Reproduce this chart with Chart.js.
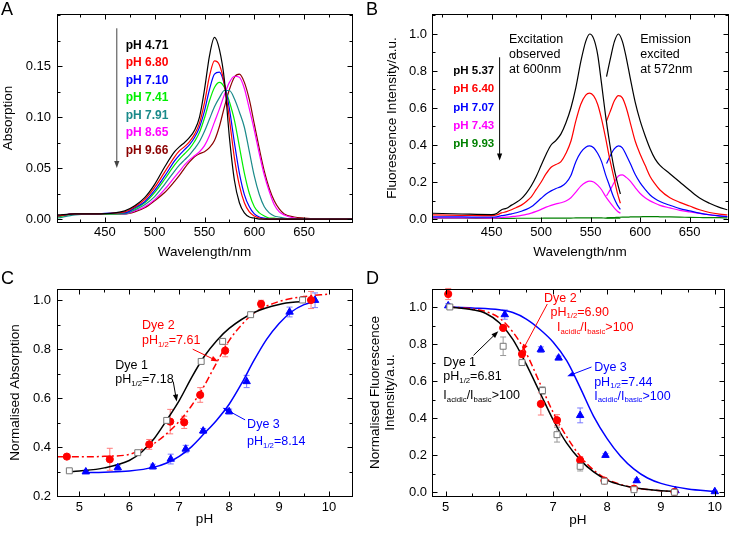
<!DOCTYPE html>
<html>
<head>
<meta charset="utf-8">
<script src="https://cdn.jsdelivr.net/npm/chart.js@4.4.1/dist/chart.umd.min.js"></script>
<style>
  body { margin: 0; background: #fff; }
  #page { position: relative; width: 729px; height: 536px; overflow: hidden; font-family: 'Liberation Sans', Arial, sans-serif; }
  canvas { position: absolute; }
  .tag { position: absolute; font-size: 18px; line-height: 18px; color: #000; }
</style>
</head>
<body>
<div id="page">
  <canvas id="chartA" width="364" height="268" style="left:0;top:0"></canvas>
  <canvas id="chartB" width="365" height="268" style="left:364px;top:0"></canvas>
  <canvas id="chartC" width="364" height="268" style="left:0;top:268px"></canvas>
  <canvas id="chartD" width="365" height="268" style="left:364px;top:268px"></canvas>
  <div class="tag" style="left:1px;top:0">A</div>
  <div class="tag" style="left:366px;top:0">B</div>
  <div class="tag" style="left:1px;top:269px">C</div>
  <div class="tag" style="left:366px;top:269px">D</div>
</div>
<script>
// --- Panel A: absorption spectra ---
const aWavelength = [403, 420, 440, 460, 470, 480, 490, 500, 510, 520, 525, 530, 535, 540, 545, 550, 555, 560, 565, 570, 575, 580, 585, 590, 595, 600, 605, 610, 615, 620, 625, 630, 640, 650, 670, 698];
const aPh471 = [0.004, 0.005, 0.005, 0.006, 0.008, 0.013, 0.021, 0.034, 0.051, 0.066, 0.071, 0.075, 0.080, 0.087, 0.100, 0.127, 0.160, 0.178, 0.166, 0.136, 0.080, 0.038, 0.016, 0.006, 0.002, 0.001, 0, 0, 0, 0, 0, 0, 0, 0, 0, 0];
const aPh680 = [0.003, 0.005, 0.005, 0.006, 0.007, 0.012, 0.019, 0.031, 0.046, 0.061, 0.067, 0.071, 0.076, 0.083, 0.094, 0.114, 0.140, 0.155, 0.151, 0.132, 0.098, 0.060, 0.033, 0.016, 0.007, 0.003, 0.001, 0, 0, 0, 0, 0, 0, 0, 0, 0];
const aPh710 = [0.003, 0.005, 0.005, 0.006, 0.006, 0.011, 0.017, 0.028, 0.042, 0.057, 0.063, 0.068, 0.073, 0.080, 0.090, 0.106, 0.127, 0.142, 0.144, 0.132, 0.108, 0.075, 0.045, 0.024, 0.012, 0.005, 0.002, 0.001, 0, 0, 0, 0, 0, 0, 0, 0];
const aPh741 = [0.002, 0.005, 0.005, 0.005, 0.006, 0.010, 0.016, 0.026, 0.039, 0.053, 0.059, 0.064, 0.069, 0.076, 0.085, 0.099, 0.116, 0.129, 0.134, 0.129, 0.115, 0.097, 0.071, 0.045, 0.025, 0.012, 0.006, 0.003, 0.001, 0.001, 0, 0, 0, 0, 0, 0];
const aPh791 = [0.001, 0.004, 0.005, 0.005, 0.005, 0.009, 0.014, 0.022, 0.034, 0.047, 0.053, 0.058, 0.063, 0.069, 0.076, 0.086, 0.098, 0.110, 0.119, 0.126, 0.126, 0.118, 0.105, 0.090, 0.066, 0.042, 0.024, 0.012, 0.006, 0.003, 0.002, 0.001, 0, 0, 0, 0];
const aPh865 = [0.003, 0.005, 0.005, 0.005, 0.005, 0.008, 0.012, 0.019, 0.029, 0.041, 0.047, 0.053, 0.058, 0.062, 0.066, 0.072, 0.082, 0.095, 0.108, 0.122, 0.134, 0.140, 0.139, 0.128, 0.108, 0.087, 0.064, 0.043, 0.027, 0.014, 0.007, 0.004, 0.001, 0, 0, 0];
const aPh966 = [0.003, 0.005, 0.005, 0.005, 0.005, 0.007, 0.011, 0.018, 0.026, 0.037, 0.043, 0.050, 0.056, 0.061, 0.064, 0.066, 0.070, 0.077, 0.091, 0.110, 0.127, 0.139, 0.142, 0.134, 0.117, 0.093, 0.069, 0.047, 0.030, 0.018, 0.010, 0.005, 0.002, 0.001, 0, 0];
const aXTicks = [450, 500, 550, 600, 650];
const aYTicks = [0, 0.05, 0.10, 0.15];

// --- Panel B: excitation and emission spectra ---
const bExcWavelength = [390, 420, 450, 455, 460, 465, 470, 475, 480, 485, 490, 495, 500, 505, 510, 515, 520, 525, 530, 535, 540, 545, 549, 553, 557, 561, 565, 569, 573, 577, 580];
const bExc537 = [0.031, 0.027, 0.024, 0.030, 0.050, 0.058, 0.075, 0.090, 0.110, 0.140, 0.180, 0.230, 0.290, 0.350, 0.400, 0.425, 0.460, 0.520, 0.600, 0.710, 0.850, 0.960, 1.000, 0.975, 0.890, 0.730, 0.560, 0.415, 0.290, 0.195, 0.135];
const bExc640 = [0.022, 0.020, 0.018, 0.022, 0.033, 0.040, 0.050, 0.062, 0.075, 0.095, 0.120, 0.160, 0.200, 0.245, 0.280, 0.295, 0.310, 0.355, 0.420, 0.530, 0.620, 0.670, 0.680, 0.665, 0.620, 0.540, 0.440, 0.330, 0.235, 0.140, 0.085];
const bExc707 = [0.012, 0.011, 0.010, 0.012, 0.018, 0.022, 0.028, 0.034, 0.042, 0.052, 0.066, 0.088, 0.112, 0.135, 0.152, 0.165, 0.175, 0.195, 0.235, 0.310, 0.360, 0.388, 0.395, 0.385, 0.355, 0.310, 0.240, 0.180, 0.120, 0.075, 0.052];
const bExc743 = [0.006, 0.006, 0.005, 0.006, 0.008, 0.010, 0.013, 0.016, 0.020, 0.025, 0.032, 0.041, 0.052, 0.064, 0.074, 0.082, 0.088, 0.097, 0.115, 0.145, 0.178, 0.198, 0.205, 0.200, 0.183, 0.158, 0.122, 0.092, 0.065, 0.042, 0.031];
const bExc993 = [0.004, 0.004, 0.003, 0.003, 0.003, 0.003, 0.003, 0.004, 0.004, 0.004, 0.004, 0.004, 0.004, 0.005, 0.005, 0.005, 0.005, 0.005, 0.005, 0.006, 0.006, 0.006, 0.006, 0.006, 0.006, 0.006, 0.005, 0.005, 0.005, 0.005, 0.005];
const bEmWavelength = [566, 570, 574, 578, 582, 586, 590, 595, 600, 605, 610, 615, 620, 630, 640, 650, 660, 670, 680, 688];
const bEm537 = [0.77, 0.87, 0.96, 1.0, 0.96, 0.87, 0.76, 0.63, 0.53, 0.45, 0.38, 0.325, 0.29, 0.245, 0.2, 0.155, 0.113, 0.085, 0.063, 0.05];
const bEm640 = [0.53, 0.585, 0.64, 0.667, 0.655, 0.6, 0.52, 0.42, 0.35, 0.29, 0.23, 0.19, 0.157, 0.115, 0.09, 0.07, 0.05, 0.035, 0.026, 0.022];
const bEm707 = [0.3, 0.345, 0.38, 0.395, 0.385, 0.345, 0.3, 0.24, 0.195, 0.16, 0.13, 0.11, 0.095, 0.074, 0.056, 0.044, 0.032, 0.023, 0.017, 0.013];
const bEm743 = [0.125, 0.16, 0.2, 0.232, 0.238, 0.225, 0.205, 0.17, 0.138, 0.115, 0.098, 0.085, 0.074, 0.06, 0.047, 0.038, 0.03, 0.022, 0.016, 0.013];
const bEm993 = [0.006, 0.007, 0.008, 0.009, 0.01, 0.01, 0.011, 0.012, 0.012, 0.013, 0.013, 0.013, 0.012, 0.011, 0.01, 0.009, 0.008, 0.007, 0.007, 0.006];
const bXTicks = [450, 500, 550, 600, 650];
const bYTicks = [0, 0.2, 0.4, 0.6, 0.8, 1.0];

// --- Panel C: normalised absorption vs pH ---
const cDye1Ph = [4.80, 6.17, 6.75, 7.44, 7.87, 8.43, 9.47];
const cDye1Val = [0.303, 0.377, 0.509, 0.750, 0.832, 0.941, 1.001];
const cDye1Err = [0.005, 0.005, 0.01, 0.01, 0.01, 0.005, 0.005];
const cDye2Ph = [4.75, 5.61, 6.40, 6.82, 7.10, 7.42, 7.92, 8.64, 9.64];
const cDye2Val = [0.361, 0.350, 0.411, 0.504, 0.501, 0.613, 0.794, 0.985, 1.001];
const cDye2Err = [0, 0.045, 0.02, 0.05, 0.025, 0.03, 0.025, 0.015, 0.035];
const cDye3Ph = [5.13, 5.77, 6.47, 6.83, 7.13, 7.48, 8.00, 8.35, 9.21, 9.72];
const cDye3Val = [0.299, 0.316, 0.320, 0.351, 0.392, 0.466, 0.545, 0.668, 0.952, 1.000];
const cDye3Err = [0.005, 0.01, 0.01, 0.02, 0.015, 0.01, 0.01, 0.025, 0.02, 0.03];
const cFit1Ph = [4.75, 5.0, 5.5, 6.0, 6.25, 6.5, 6.75, 7.0, 7.25, 7.5, 7.75, 8.0, 8.5, 9.0, 9.5];
const cFit1 = [0.298, 0.302, 0.315, 0.345, 0.38, 0.435, 0.51, 0.59, 0.685, 0.77, 0.835, 0.885, 0.95, 0.983, 0.996];
const cFit2Ph = [4.55, 5.0, 5.5, 6.0, 6.25, 6.5, 6.75, 7.0, 7.25, 7.5, 7.75, 8.0, 8.25, 8.5, 9.0, 9.5, 10.0];
const cFit2 = [0.36, 0.36, 0.362, 0.37, 0.39, 0.415, 0.455, 0.505, 0.57, 0.65, 0.745, 0.835, 0.9, 0.948, 0.995, 1.015, 1.025];
const cFit3Ph = [5.1, 5.5, 6.0, 6.5, 6.75, 7.0, 7.25, 7.5, 7.75, 8.0, 8.25, 8.5, 8.75, 9.0, 9.25, 9.5, 9.75];
const cFit3 = [0.295, 0.297, 0.302, 0.318, 0.335, 0.362, 0.402, 0.455, 0.51, 0.575, 0.66, 0.755, 0.84, 0.905, 0.953, 0.982, 0.998];
const cXTicks = [5, 6, 7, 8, 9, 10];
const cYTicks = [0.2, 0.4, 0.6, 0.8, 1.0];

// --- Panel D: normalised fluorescence vs pH ---
const dDye1Ph = [5.08, 6.07, 6.42, 6.80, 7.07, 7.50, 7.95, 8.50, 9.25];
const dDye1Val = [1.0, 0.788, 0.70, 0.549, 0.311, 0.14, 0.06, 0.014, 0.0];
const dDye1Err = [0.01, 0.05, 0.01, 0.02, 0.04, 0.025, 0.01, 0.005, 0.005];
const dDye2Ph = [5.05, 6.07, 6.42, 6.77, 7.07, 7.50, 7.95, 8.50, 9.25];
const dDye2Val = [1.07, 0.887, 0.746, 0.477, 0.389, 0.173, 0.063, 0.02, 0.002];
const dDye2Err = [0.03, 0.01, 0.02, 0.06, 0.03, 0.02, 0.01, 0.005, 0.005];
const dDye3Ph = [5.05, 6.10, 6.77, 7.10, 7.50, 7.97, 8.55, 9.27, 10.0];
const dDye3Val = [1.007, 0.959, 0.77, 0.725, 0.415, 0.2, 0.063, 0.009, 0.004];
const dDye3Err = [0.01, 0.025, 0.015, 0.01, 0.04, 0.01, 0.01, 0.005, 0.003];
const dFit12Ph = [5.05, 5.5, 5.75, 6.0, 6.25, 6.5, 6.75, 7.0, 7.25, 7.5, 7.75, 8.0, 8.25, 8.5, 9.0, 9.3];
const dFit1 = [1.0, 0.985, 0.965, 0.915, 0.825, 0.69, 0.54, 0.39, 0.265, 0.175, 0.11, 0.066, 0.04, 0.024, 0.008, 0.004];
const dFit2 = [1.0, 0.99, 0.975, 0.94, 0.865, 0.75, 0.59, 0.43, 0.3, 0.195, 0.12, 0.07, 0.042, 0.025, 0.008, 0.003];
const dFit3Ph = [5.05, 5.5, 6.0, 6.25, 6.5, 6.75, 7.0, 7.25, 7.5, 7.75, 8.0, 8.25, 8.5, 8.75, 9.0, 9.5, 10.0];
const dFit3 = [1.0, 0.995, 0.985, 0.97, 0.935, 0.88, 0.81, 0.71, 0.565, 0.41, 0.29, 0.195, 0.125, 0.077, 0.048, 0.018, 0.005];
const dXTicks = [5, 6, 7, 8, 9, 10];
const dYTicks = [0, 0.2, 0.4, 0.6, 0.8, 1.0];

// --- Shared helpers ---
const FONT = "'Liberation Sans', Arial, sans-serif";
Chart.defaults.font.family = FONT;
Chart.defaults.color = '#000';

const RED = '#ff0000', BLUE = '#0000ff', BLACK = '#000000';
const SUB = (t) => ({ sub: t });

function xy(xs, ys) { return xs.map((x, i) => ({ x, y: ys[i] })); }

function curve(xs, ys, color, extra) {
    return Object.assign({
        data: xy(xs, ys), borderColor: color, backgroundColor: color,
        borderWidth: 1.2, pointRadius: 0, showLine: true,
        cubicInterpolationMode: 'monotone', order: 1
    }, extra || {});
}

function markers(xs, ys, style, color, fill, r) {
    return {
        data: xy(xs, ys), showLine: false, pointStyle: style, pointRadius: r,
        borderColor: color, backgroundColor: fill, borderWidth: 1, order: 0
    };
}

function axis(c) {
    return {
        type: 'linear', min: c.min, max: c.max,
        afterBuildTicks: s => { s.ticks = c.ticks.map(v => ({ value: v })); },
        afterFit: s => { if (s.isHorizontal()) s.height = c.size; else s.width = c.size; },
        grid: { display: false, drawTicks: false },
        border: { display: false },
        ticks: { autoSkip: false, maxRotation: 0, padding: c.pad, color: '#000', font: { size: 13 },
                 callback: v => v.toFixed(c.dec) },
        title: { display: true, text: c.title, color: '#000',
                 font: { size: 13.5, lineHeight: c.lh || 1.2 }, padding: c.tpad }
    };
}

function richText(ctx, x, y, parts, size, color, bold) {
    ctx.fillStyle = color; ctx.textBaseline = 'middle'; ctx.textAlign = 'left';
    let cx = x;
    parts.forEach(p => {
        const sub = typeof p === 'object';
        const t = sub ? p.sub : p;
        ctx.font = (bold ? 'bold ' : '') + (sub ? size * 0.62 : size) + 'px ' + FONT;
        ctx.fillText(t, cx, sub ? y + size * 0.32 : y);
        cx += ctx.measureText(t).width;
    });
}

function arrow(ctx, x1, y1, x2, y2, color) {
    const a = Math.atan2(y2 - y1, x2 - x1), L = 7, W = 2.6;
    ctx.strokeStyle = color; ctx.fillStyle = color; ctx.lineWidth = 1;
    ctx.beginPath(); ctx.moveTo(x1, y1);
    ctx.lineTo(x2 - L * 0.8 * Math.cos(a), y2 - L * 0.8 * Math.sin(a)); ctx.stroke();
    ctx.beginPath(); ctx.moveTo(x2, y2);
    ctx.lineTo(x2 - L * Math.cos(a) + W * Math.sin(a), y2 - L * Math.sin(a) - W * Math.cos(a));
    ctx.lineTo(x2 - L * Math.cos(a) - W * Math.sin(a), y2 - L * Math.sin(a) + W * Math.cos(a));
    ctx.closePath(); ctx.fill();
}

// frame, inward ticks, error bars, in-plot labels and arrows
const decor = {
    id: 'decor',
    beforeDatasetsDraw(chart, args, opts) {
        const ctx = chart.ctx, xs = chart.scales.x, ys = chart.scales.y;
        ctx.save();
        (opts.errorBars || []).forEach(eb => {
            ctx.strokeStyle = eb.color; ctx.lineWidth = 1;
            eb.x.forEach((xv, i) => {
                const e = eb.err[i];
                if (!e) return;
                const px = xs.getPixelForValue(xv);
                const y1 = ys.getPixelForValue(eb.y[i] - e), y2 = ys.getPixelForValue(eb.y[i] + e);
                ctx.beginPath();
                ctx.moveTo(px, y1); ctx.lineTo(px, y2);
                ctx.moveTo(px - 3, y1); ctx.lineTo(px + 3, y1);
                ctx.moveTo(px - 3, y2); ctx.lineTo(px + 3, y2);
                ctx.stroke();
            });
        });
        ctx.restore();
    },
    afterDraw(chart, args, opts) {
        const ctx = chart.ctx, a = chart.chartArea, xs = chart.scales.x, ys = chart.scales.y;
        const L = Math.round(a.left) + 0.5, R = Math.round(a.right) + 0.5;
        const T = Math.round(a.top) + 0.5, B = Math.round(a.bottom) + 0.5;
        ctx.save();
        ctx.strokeStyle = '#000'; ctx.lineWidth = 1;
        ctx.strokeRect(L, T, R - L, B - T);

        const tickSet = (scale, step) => {
            const out = scale.ticks.map(t => ({ v: t.value, len: 5 }));
            const n0 = Math.ceil(scale.min / step - 1e-6), n1 = Math.floor(scale.max / step + 1e-6);
            for (let n = n0; n <= n1; n++) {
                const v = n * step;
                if (!out.some(t => Math.abs(t.v - v) < step / 10)) out.push({ v, len: 3 });
            }
            return out;
        };
        ctx.beginPath();
        tickSet(xs, opts.xMinor).forEach(t => {
            const px = Math.round(xs.getPixelForValue(t.v)) + 0.5;
            ctx.moveTo(px, B); ctx.lineTo(px, B - t.len);
            ctx.moveTo(px, T); ctx.lineTo(px, T + t.len);
        });
        tickSet(ys, opts.yMinor).forEach(t => {
            const py = Math.round(ys.getPixelForValue(t.v)) + 0.5;
            ctx.moveTo(L, py); ctx.lineTo(L + t.len, py);
            ctx.moveTo(R, py); ctx.lineTo(R - t.len, py);
        });
        ctx.stroke();

        (opts.arrows || []).forEach(ar => {
            arrow(ctx, xs.getPixelForValue(ar.from[0]), ys.getPixelForValue(ar.from[1]),
                  xs.getPixelForValue(ar.to[0]), ys.getPixelForValue(ar.to[1]), ar.color);
        });
        (opts.texts || []).forEach(t => {
            richText(ctx, xs.getPixelForValue(t.at[0]), ys.getPixelForValue(t.at[1]), t.parts, t.size || 12.5, t.color);
        });
        if (opts.legend) {
            const lg = opts.legend;
            chart.data.datasets.filter(d => d.legend).forEach((d, i) => {
                richText(ctx, xs.getPixelForValue(lg.x), ys.getPixelForValue(lg.y - i * lg.dy), [d.label], lg.size, d.borderColor, true);
            });
        }
        ctx.restore();
    }
};

function makeChart(id, datasets, padding, scales, decorOpts) {
    return new Chart(document.getElementById(id), {
        type: 'scatter',
        data: { datasets },
        options: {
            responsive: false, animation: false,
            layout: { padding },
            plugins: { legend: { display: false }, tooltip: { enabled: false }, decor: decorOpts },
            scales
        },
        plugins: [decor]
    });
}

// --- Chart A ---
const aSeries = [
    ['pH 4.71', aPh471, '#000000'], ['pH 6.80', aPh680, '#ff0000'], ['pH 7.10', aPh710, '#0000ff'],
    ['pH 7.41', aPh741, '#00ee00'], ['pH 7.91', aPh791, '#1a8a8a'], ['pH 8.65', aPh865, '#ff00ff'],
    ['pH 9.66', aPh966, '#8b0000']
];
makeChart('chartA',
    aSeries.map(([label, vals, color]) => curve(aWavelength, vals, color, { label, legend: true })),
    { left: 0, top: 14, right: 12, bottom: 0 },
    {
        x: axis({ min: 402, max: 698, ticks: aXTicks, dec: 0, size: 46, pad: 3, title: 'Wavelength/nm', tpad: { top: 0, bottom: 8 } }),
        y: axis({ min: -0.0029, max: 0.201, ticks: aYTicks, dec: 2, size: 57, pad: 6, title: 'Absorption', tpad: { top: 0.5, bottom: 0 } })
    },
    {
        xMinor: 25, yMinor: 0.025,
        legend: { x: 471, y: 0.170, dy: 0.0171, size: 12 },
        arrows: [{ from: [462, 0.187], to: [462, 0.05], color: '#444' }]
    });

// --- Chart B ---
const bSeries = [
    ['pH 5.37', bExc537, bEm537, '#000000'], ['pH 6.40', bExc640, bEm640, '#ff0000'],
    ['pH 7.07', bExc707, bEm707, '#0000ff'], ['pH 7.43', bExc743, bEm743, '#ff00ff'],
    ['pH 9.93', bExc993, bEm993, '#008000']
];
const bDatasets = [];
bSeries.forEach(([label, exc, em, color]) => {
    bDatasets.push(curve(bExcWavelength, exc, color, { label, legend: true }));
    bDatasets.push(curve(bEmWavelength, em, color, { label: label + ' emission' }));
});
makeChart('chartB', bDatasets,
    { left: 0, top: 14, right: 1, bottom: 0 },
    {
        x: axis({ min: 389.7, max: 688.7, ticks: bXTicks, dec: 0, size: 46, pad: 3, title: 'Wavelength/nm', tpad: { top: 0, bottom: 8 } }),
        y: axis({ min: -0.0162, max: 1.108, ticks: bYTicks, dec: 1, size: 68, pad: 5, title: 'Fluorescence Intensity/a.u.', tpad: { top: 20, bottom: 0 } })
    },
    {
        xMinor: 25, yMinor: 0.1,
        legend: { x: 411.2, y: 0.8, dy: 0.099, size: 11.5 },
        arrows: [{ from: [458, 0.874], to: [458, 0.316], color: '#000' }],
        texts: [
            { at: [467.5, 0.968], parts: ['Excitation'], color: '#000' },
            { at: [467.5, 0.887], parts: ['observed'], color: '#000' },
            { at: [467.5, 0.806], parts: ['at 600nm'], color: '#000' },
            { at: [600, 0.968], parts: ['Emission'], color: '#000' },
            { at: [600, 0.887], parts: ['excited'], color: '#000' },
            { at: [600, 0.806], parts: ['at 572nm'], color: '#000' }
        ]
    });

// --- Chart C ---
makeChart('chartC', [
        markers(cDye1Ph, cDye1Val, 'rect', '#777777', '#ffffff', 4.2),
        markers(cDye2Ph, cDye2Val, 'circle', RED, RED, 3.6),
        markers(cDye3Ph, cDye3Val, 'triangle', BLUE, BLUE, 4.3),
        curve(cFit1Ph, cFit1, BLACK, { borderWidth: 1.5 }),
        curve(cFit2Ph, cFit2, RED, { borderWidth: 1.5, borderDash: [7, 3, 2, 3] }),
        curve(cFit3Ph, cFit3, BLUE, { borderWidth: 1.5 })
    ],
    { left: 0, top: 21, right: 12, bottom: 0 },
    {
        x: axis({ min: 4.553, max: 10.46, ticks: cXTicks, dec: 0, size: 40, pad: 3.5, title: 'pH', tpad: { top: 0, bottom: 8.5 } }),
        y: axis({ min: 0.2, max: 1.046, ticks: cYTicks, dec: 1, size: 57, pad: 6, title: 'Normalised Absorption', tpad: { top: 7.5, bottom: 0 } })
    },
    {
        xMinor: 0.5, yMinor: 0.1,
        errorBars: [
            { x: cDye1Ph, y: cDye1Val, err: cDye1Err, color: '#999999' },
            { x: cDye2Ph, y: cDye2Val, err: cDye2Err, color: '#ff7a7a' },
            { x: cDye3Ph, y: cDye3Val, err: cDye3Err, color: '#7a7aff' }
        ],
        arrows: [
            { from: [7.27, 0.80], to: [7.78, 0.75], color: RED },
            { from: [6.88, 0.668], to: [6.95, 0.586], color: BLACK },
            { from: [8.32, 0.511], to: [7.87, 0.561], color: BLUE }
        ],
        texts: [
            { at: [6.255, 0.895], parts: ['Dye 2'], color: RED },
            { at: [6.255, 0.834], parts: ['pH', SUB('1/2'), '=7.61'], color: RED },
            { at: [5.72, 0.735], parts: ['Dye 1'], color: BLACK },
            { at: [5.72, 0.675], parts: ['pH', SUB('1/2'), '=7.18'], color: BLACK },
            { at: [8.36, 0.493], parts: ['Dye 3'], color: BLUE },
            { at: [8.36, 0.422], parts: ['pH', SUB('1/2'), '=8.14'], color: BLUE }
        ]
    });

// --- Chart D ---
makeChart('chartD', [
        markers(dDye1Ph, dDye1Val, 'rect', '#777777', '#ffffff', 4.2),
        markers(dDye2Ph, dDye2Val, 'circle', RED, RED, 3.6),
        markers(dDye3Ph, dDye3Val, 'triangle', BLUE, BLUE, 4.3),
        curve(dFit12Ph, dFit1, BLACK, { borderWidth: 1.5 }),
        curve(dFit12Ph, dFit2, RED, { borderWidth: 1.5, borderDash: [7, 3, 2, 3] }),
        curve(dFit3Ph, dFit3, BLUE, { borderWidth: 1.5 })
    ],
    { left: 0, top: 21, right: 1, bottom: 0 },
    {
        x: axis({ min: 4.749, max: 10.165, ticks: dXTicks, dec: 0, size: 40, pad: 4, title: 'pH', tpad: { top: 0, bottom: 7.3 } }),
        y: axis({ min: -0.02, max: 1.097, ticks: dYTicks, dec: 1, size: 68, pad: 5, lh: 1.1,
                  title: ['Normalised Fluorescence', 'Intensity/a.u.'], tpad: { top: 4.2, bottom: 0 } })
    },
    {
        xMinor: 0.5, yMinor: 0.1,
        errorBars: [
            { x: dDye1Ph, y: dDye1Val, err: dDye1Err, color: '#999999' },
            { x: dDye2Ph, y: dDye2Val, err: dDye2Err, color: '#ff7a7a' },
            { x: dDye3Ph, y: dDye3Val, err: dDye3Err, color: '#7a7aff' }
        ],
        arrows: [
            { from: [6.89, 1.016], to: [6.42, 0.761], color: RED },
            { from: [5.52, 0.739], to: [5.98, 0.869], color: BLACK },
            { from: [7.71, 0.676], to: [7.26, 0.626], color: BLUE }
        ],
        texts: [
            { at: [6.83, 1.045], parts: ['Dye 2'], color: RED },
            { at: [6.95, 0.971], parts: ['pH', SUB('1/2'), '=6.90'], color: RED },
            { at: [7.07, 0.89], parts: ['I', SUB('acidic'), '/I', SUB('basic'), '>100'], color: RED },
            { at: [4.96, 0.698], parts: ['Dye 1'], color: BLACK },
            { at: [4.96, 0.622], parts: ['pH', SUB('1/2'), '=6.81'], color: BLACK },
            { at: [4.96, 0.523], parts: ['I', SUB('acidic'), '/I', SUB('basic'), '>100'], color: BLACK },
            { at: [7.76, 0.671], parts: ['Dye 3'], color: BLUE },
            { at: [7.76, 0.594], parts: ['pH', SUB('1/2'), '=7.44'], color: BLUE },
            { at: [7.76, 0.518], parts: ['I', SUB('acidic'), '/I', SUB('basic'), '>100'], color: BLUE }
        ]
    });
</script>
</body>
</html>
